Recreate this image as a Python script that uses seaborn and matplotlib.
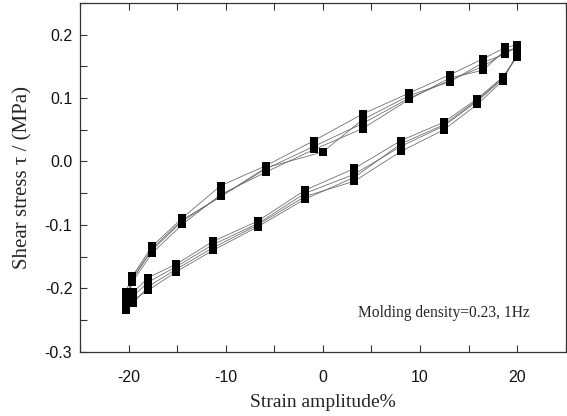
import numpy as np
import pandas as pd
import matplotlib
matplotlib.use("Agg")
import matplotlib.pyplot as plt
import seaborn as sns
from matplotlib.ticker import MultipleLocator

# Strain positions along one loop: upper branch (20 -> -20), then lower branch (-20 -> 20)
strain_c1 = [20.0, 18.8, 16.5, 13.1, 8.9, 4.1, -0.9, -5.9, -10.5, -14.45, -17.6, -19.6, -20.3,
             -19.5, -17.95, -15.1, -11.3, -6.7, -1.8, 3.25, 8.05, 12.45, 15.9, 18.5, 20.0]
strain_c2 = [20.0, 18.8, 16.5, 13.1, 8.9, 4.1, -0.9, -5.9, -10.5, -14.45, -17.6, -19.6, -20.3,
             -19.5, -17.95, -15.1, -11.3, -6.7, -1.8, 3.25, 8.05, 12.45, 15.9, 18.5, 20.0]
strain_c3 = [20.0, 18.8, 16.5, 13.1, 8.9, 4.1, -0.9, -5.9, -10.5, -14.45, -17.6, -19.6, -20.3,
             -19.5, -17.95, -15.1, -11.3, -6.7, -1.8, 3.25, 8.05, 12.45, 15.9, 18.5, 20.0]
strain_c4 = [20.0, 18.8, 16.5, 13.1, 8.9, 4.1, 0.0, -5.9, -10.5, -14.45, -17.6, -19.6, -20.3,
             -19.5, -17.95, -15.1, -11.3, -6.7, -1.8, 3.25, 8.05, 12.45, 15.9, 18.5, 20.0]

stress_c1 = [0.184, 0.180, 0.162, 0.137, 0.108, 0.075, 0.033, -0.007, -0.038, -0.089, -0.134, -0.181, -0.206,
             -0.206, -0.183, -0.162, -0.126, -0.094, -0.045, -0.011, 0.033, 0.062, 0.099, 0.133, 0.165]
stress_c2 = [0.180, 0.172, 0.150, 0.128, 0.100, 0.060, 0.024, -0.012, -0.055, -0.094, -0.140, -0.186, -0.215,
             -0.212, -0.190, -0.166, -0.131, -0.098, -0.050, -0.020, 0.024, 0.056, 0.095, 0.130, 0.168]
stress_c3 = [0.176, 0.176, 0.144, 0.132, 0.098, 0.052, 0.019, -0.017, -0.052, -0.099, -0.145, -0.190, -0.226,
             -0.223, -0.197, -0.170, -0.136, -0.100, -0.055, -0.031, 0.016, 0.050, 0.090, 0.127, 0.170]
stress_c4 = [0.182, 0.170, 0.156, 0.126, 0.104, 0.066, 0.015, -0.010, -0.055, -0.092, -0.138, -0.184, -0.235,
             -0.218, -0.203, -0.174, -0.140, -0.103, -0.059, -0.025, 0.028, 0.058, 0.097, 0.131, 0.166]

cycles = {"1": (strain_c1, stress_c1), "2": (strain_c2, stress_c2),
          "3": (strain_c3, stress_c3), "4": (strain_c4, stress_c4)}

rows = []
for name, (sx, sy) in cycles.items():
    for i, (a, b) in enumerate(zip(sx, sy)):
        rows.append({"cycle": name, "order": i, "strain": a, "stress": b})
df = pd.DataFrame(rows)

sns.set_theme(style="ticks")
plt.rcParams["axes.unicode_minus"] = False
fig = plt.figure(figsize=(5.67, 4.16), dpi=100)
ax = fig.add_axes([0.141, 0.1546, 0.8567, 0.8382])

sns.lineplot(data=df, x="strain", y="stress", units="cycle", estimator=None, sort=False,
             color="#666666", linewidth=0.55, ax=ax, legend=False)
sns.scatterplot(data=df, x="strain", y="stress", marker="s", color="black", s=40,
                edgecolor="black", linewidth=0, ax=ax, legend=False, zorder=3)

ax.set_xlim(-25, 25)
ax.set_ylim(-0.3, 0.25)
ax.xaxis.set_major_locator(MultipleLocator(10))
ax.xaxis.set_minor_locator(MultipleLocator(5))
ax.yaxis.set_major_locator(MultipleLocator(0.1))
ax.yaxis.set_minor_locator(MultipleLocator(0.05))
ax.yaxis.set_major_formatter(matplotlib.ticker.FormatStrFormatter("%.1f"))

ax.tick_params(which="both", direction="in", top=True, right=False, width=0.8, colors="#333333",
               labelcolor="#111111", length=5)
ax.tick_params(axis="x", which="major", pad=13)
ax.tick_params(axis="y", which="major", pad=5.5)
for lab in ax.get_xticklabels() + ax.get_yticklabels():
    lab.set_fontfamily(["Liberation Sans", "DejaVu Sans"])
    lab.set_fontsize(11.5)
for sp in ax.spines.values():
    sp.set_color("#333333")
    sp.set_linewidth(0.9)

ax.set_xlabel("Strain amplitude%", fontfamily=["Liberation Serif", "DejaVu Serif"], fontsize=14, labelpad=7)
ax.set_ylabel("Shear stress \u03c4 / (MPa)", fontfamily=["Liberation Serif", "DejaVu Serif"], fontsize=15, labelpad=9)

ax.text(3.6, -0.239, "Molding density=0.23, 1Hz", fontfamily=["Liberation Serif", "DejaVu Serif"],
        fontsize=11.2, va="center", ha="left")

fig.savefig("out.png", dpi=100)
